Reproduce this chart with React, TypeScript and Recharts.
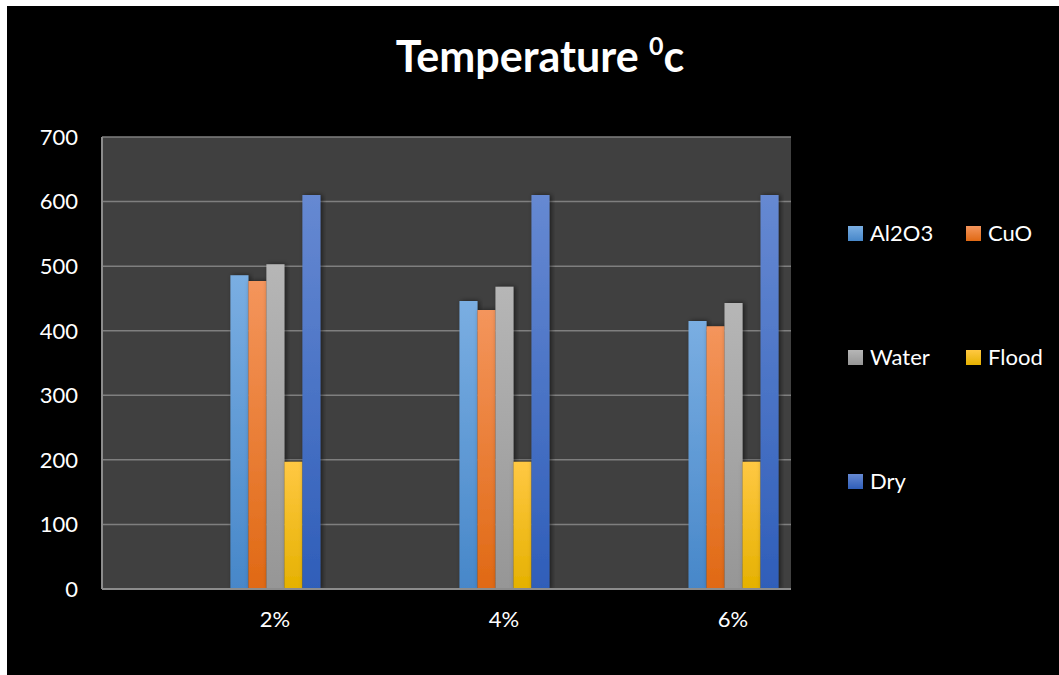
import React from 'react';
import { BarChart, Bar, XAxis, YAxis, CartesianGrid, Legend } from 'recharts';

const categories = ['2%', '4%', '6%'];
const al2o3 = [486, 446, 415];
const cuo = [477, 432, 407];
const water = [503, 468, 443];
const flood = [197, 197, 197];
const dry = [610, 610, 610];
const yTicks = [0, 100, 200, 300, 400, 500, 600, 700];

const seriesMeta = [
  { key: 'Al2O3', top: '#7aaee2', bottom: '#4787c9' },
  { key: 'CuO', top: '#f4955c', bottom: '#e06914' },
  { key: 'Water', top: '#b6b6b6', bottom: '#969696' },
  { key: 'Flood', top: '#ffc843', bottom: '#e5b100' },
  { key: 'Dry', top: '#6689d2', bottom: '#2f5eb9' },
];

const data = categories.map((c, i) => ({
  idx: i,
  name: c,
  Al2O3: al2o3[i],
  CuO: cuo[i],
  Water: water[i],
  Flood: flood[i],
  Dry: dry[i],
}));

const FONT = 'Lato, "Open Sans", sans-serif';

const renderLegend = (props: any) => {
  const payload: any[] = props.payload || [];
  const ordered = seriesMeta
    .map((m) => ({ meta: m, item: payload.find((p: any) => p.value === m.key || p.dataKey === m.key) }))
    .filter((x) => x.item);
  return (
    <div
      style={{
        display: 'grid',
        gridTemplateColumns: '118px 118px',
        rowGap: 100,
        fontFamily: FONT,
        fontSize: 22,
        color: '#ffffff',
      }}
    >
      {ordered.map(({ meta, item }) => (
        <div key={meta.key} style={{ display: 'flex', alignItems: 'center', height: 24 }}>
          <span
            style={{
              display: 'inline-block',
              width: 15,
              height: 15,
              marginRight: 7,
              background: `linear-gradient(${meta.top}, ${meta.bottom})`,
            }}
          />
          <span style={{ lineHeight: '24px' }}>{item.value}</span>
        </div>
      ))}
    </div>
  );
};

export default function App() {
  return (
    <div style={{ position: 'fixed', left: 7, top: 6, right: 0, bottom: 0, background: '#000000', overflow: 'hidden' }}>
      <div
        style={{
          position: 'absolute',
          left: 0,
          width: 1066,
          top: 28,
          textAlign: 'center',
          fontFamily: FONT,
          fontWeight: 700,
          fontSize: 43,
          lineHeight: '43px',
          color: '#ffffff',
          zIndex: 2,
        }}
      >
        Temperature <span style={{ fontSize: 25, position: 'relative', top: -17 }}>0</span>c
      </div>
      <BarChart
        width={1052}
        height={669}
        data={data}
        margin={{ top: 131, right: 268, bottom: 46, left: 35 }}
        barGap={0}
        style={{ background: '#000000' }}
      >
        <defs>
          {seriesMeta.map((m) => (
            <linearGradient key={m.key} id={`grad-${m.key}`} x1="0" y1="0" x2="0" y2="1">
              <stop offset="0%" stopColor={m.top} />
              <stop offset="100%" stopColor={m.bottom} />
            </linearGradient>
          ))}
          <filter id="barShadow" x="-30%" y="-5%" width="160%" height="110%">
            <feDropShadow dx="2" dy="0" stdDeviation="2.5" floodColor="#000000" floodOpacity="0.55" />
          </filter>
        </defs>
        <CartesianGrid vertical={false} stroke="#7f7f7f" strokeWidth={1.5} fill="#404040" fillOpacity={1} />
        <XAxis
          dataKey="idx"
          type="number"
          domain={[-0.755, 2.253]}
          ticks={[0, 1, 2]}
          allowDataOverflow
          tickFormatter={(v: number) => categories[v] ?? ''}
          height={40}
          tickLine={false}
          tickSize={0}
          tickMargin={22}
          axisLine={{ stroke: '#8c8c8c', strokeWidth: 2 }}
          tick={{ fill: '#ffffff', fontSize: 22, fontFamily: FONT }}
        />
        <YAxis
          width={60}
          domain={[0, 700]}
          ticks={yTicks}
          tickLine={false}
          tickSize={0}
          tickMargin={24}
          axisLine={{ stroke: '#8c8c8c', strokeWidth: 2 }}
          tick={{ fill: '#ffffff', fontSize: 22, fontFamily: FONT }}
        />
        <Legend
          layout="horizontal"
          verticalAlign="middle"
          align="center"
          content={renderLegend}
          wrapperStyle={{ position: 'absolute', left: 841, top: 215, width: 240 }}
        />
        {seriesMeta.map((m) => (
          <Bar
            key={m.key}
            dataKey={m.key}
            barSize={18}
            fill={`url(#grad-${m.key})`}
            filter="url(#barShadow)"
            isAnimationActive={false}
          />
        ))}
      </BarChart>
    </div>
  );
}
